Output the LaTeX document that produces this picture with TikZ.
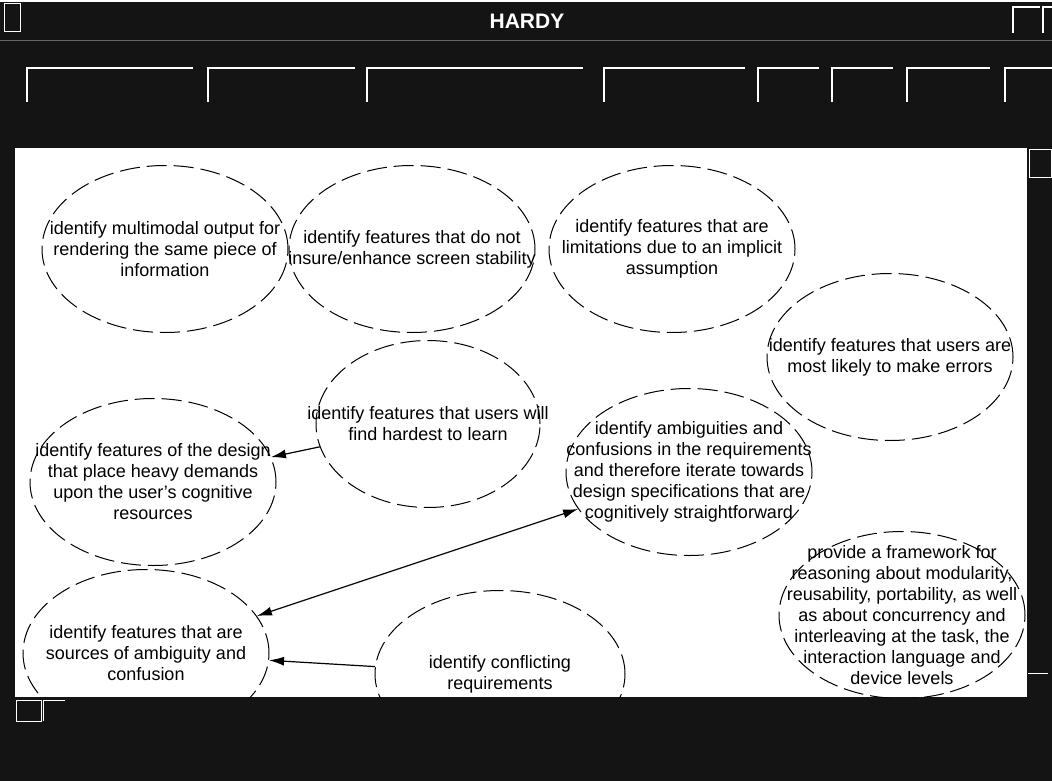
\documentclass[tikz,border=0pt]{standalone}
\usepackage{fontspec}
\setmainfont{Liberation Sans}
\usetikzlibrary{shapes.geometric,arrows.meta}

\tikzset{
  bubble/.style={ellipse, draw=black, line width=1pt, dash pattern=on 20pt off 7pt,
    minimum width=246pt, minimum height=167pt, inner sep=0pt},
  bubbletext/.style={font=\fontsize{18}{21}\selectfont, align=center, inner sep=0pt},
  link/.style={line width=1.2pt, -{Latex[length=15pt,width=9pt]}},
  bevel/.style={white, line width=2.5pt}
}

\begin{document}
\begin{tikzpicture}[x=1pt, y=-1pt]
  \useasboundingbox (0,0) rectangle (1052,781);

  % window frame
  \fill[black!92] (0,0) rectangle (1052,781);
  \draw[white, line width=1.5pt] (0,1) -- (1052,1);
  \draw[black!60, line width=1pt] (0,41) -- (1052,41);
  \draw[white, line width=1pt] (4,4) rectangle (20,32);
  \draw[bevel] (1013,33) -- (1013,7) -- (1040,7);
  \draw[bevel] (1043,33) -- (1043,7) -- (1052,7);
  \node[font=\bfseries\fontsize{21}{21}\selectfont, text=white, inner sep=0pt] (title) at (527,21) {HARDY};

  % button row
  \foreach \xa/\xb in {27/193, 208/355, 367/583, 604/745, 758/819, 832/893, 907/990, 1005/1052}
    \draw[bevel] (\xa,102) -- (\xa,68) -- (\xb,68);

  % scroll bits
  \draw[white, line width=1pt] (1029,150) rectangle (1051,177);
  \draw[white, line width=1pt] (1028,673) -- (1048,673);
  \draw[white, line width=1pt] (16,700) rectangle (41,721);
  \draw[white, line width=1pt] (43,721) -- (43,700) -- (65,700);

  % canvas
  \fill[white] (15,148) rectangle (1027,697);

  \begin{scope}
    \clip (15,148) rectangle (1027,697);

    \node[bubble] (e1) at (165,249) {};
    \node[bubbletext] (t1) at (e1) {identify multimodal output for\\rendering the same piece of\\information};

    \node[bubble] (e2) at (412,249) {};
    \node[bubbletext] (t2) at (e2) {identify features that do not\\insure/enhance screen stability};

    \node[bubble] (e3) at (672,249) {};
    \node[bubbletext] (t3) at (e3) {identify features that are\\limitations due to an implicit\\assumption};

    \node[bubble] (e4) at (890,357) {};
    \node[bubbletext] (t4) at (e4) {identify features that users are\\most likely to make errors};

    \node[bubble, minimum width=224pt] (e5) at (428,424) {};
    \node[bubbletext] (t5) at (e5) {identify features that users will\\find hardest to learn};

    \node[bubble] (e6) at (153,482) {};
    \node[bubbletext] (t6) at (e6) {identify features of the design\\that place heavy demands\\upon the user's cognitive\\resources};

    \node[bubble] (e7) at (689,472) {};
    \node[bubbletext] (t7) at (e7) {identify ambiguities and\\confusions in the requirements\\and therefore iterate towards\\design specifications that are\\cognitively straightforward};

    \node[bubble] (e8) at (902,615) {};
    \node[bubbletext] (t8) at (e8) {provide a framework for\\reasoning about modularity,\\reusability, portability, as well\\as about concurrency and\\interleaving at the task, the\\interaction language and\\device levels};

    \node[bubble] (e9) at (146,653) {};
    \node[bubbletext] (t9) at (e9) {identify features that are\\sources of ambiguity and\\confusion};

    \node[bubble, minimum width=250pt] (e10) at (500,674) {};
    \node[bubbletext] (t10) at (e10) {identify conflicting\\requirements};

    % links
    \draw[link] (e5) -- (e6);
    \draw[link, {Latex[length=15pt,width=9pt]}-{Latex[length=15pt,width=9pt]}] (e7) -- (e9);
    \draw[link] (e10) -- (e9);
  \end{scope}
\end{tikzpicture}
\end{document}
